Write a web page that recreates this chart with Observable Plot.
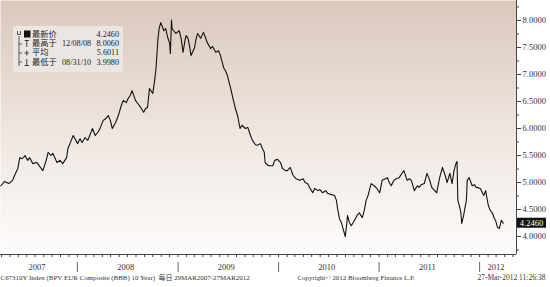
<!DOCTYPE html>
<html><head><meta charset="utf-8">
<script src="https://cdn.jsdelivr.net/npm/d3@7"></script>
<script src="https://cdn.jsdelivr.net/npm/@observablehq/plot@0.6"></script>
<style>
html,body{margin:0;padding:0;background:#fff;}
#wrap{position:relative;width:550px;height:287px;overflow:hidden;}
.legend{position:absolute;left:13px;top:26px;width:110px;height:46px;background:#ece6e2;font-family:"Liberation Serif","Noto Sans CJK SC",serif;font-size:8.2px;color:#222;}
.legend span{position:absolute;line-height:9px;white-space:nowrap;}
</style></head><body><div id="wrap"></div>
<script>
const dates = [
"2007-03-29","2007-04-12","2007-04-27","2007-05-11","2007-05-18","2007-05-30","2007-06-06","2007-06-15","2007-06-25","2007-07-05",
"2007-07-12","2007-07-23","2007-08-07","2007-08-17","2007-08-29","2007-09-10","2007-09-17","2007-09-27","2007-10-04","2007-10-19",
"2007-10-30","2007-11-09","2007-11-23","2007-11-28","2007-12-10","2007-12-17","2008-01-02","2008-01-11","2008-01-18","2008-01-29",
"2008-02-08","2008-02-25","2008-03-06","2008-03-17","2008-03-25","2008-04-04","2008-04-15","2008-04-22","2008-04-30","2008-05-07",
"2008-05-19","2008-05-29","2008-06-09","2008-06-16","2008-06-27","2008-07-04","2008-07-11","2008-07-18","2008-07-30","2008-08-11",
"2008-08-18","2008-08-29","2008-09-05","2008-09-12","2008-09-19","2008-10-01","2008-10-08","2008-10-13","2008-10-20","2008-10-24",
"2008-10-30","2008-11-06","2008-11-10","2008-11-17","2008-11-24","2008-12-01","2008-12-04","2008-12-08","2008-12-10","2008-12-16",
"2008-12-24","2009-01-05","2009-01-12","2009-01-19","2009-01-26","2009-01-30","2009-02-06","2009-02-10","2009-02-17","2009-03-02",
"2009-03-06","2009-03-13","2009-03-24","2009-04-03","2009-04-10","2009-04-17","2009-04-29","2009-05-06","2009-05-18","2009-05-28",
"2009-06-04","2009-06-15","2009-06-22","2009-06-29","2009-07-10","2009-07-21","2009-07-28","2009-08-05","2009-08-14","2009-08-21",
"2009-09-02","2009-09-11","2009-09-21","2009-09-28","2009-10-09","2009-10-16","2009-10-27","2009-11-03","2009-11-10","2009-11-13",
"2009-11-25","2009-12-02","2009-12-11","2009-12-18","2009-12-28","2010-01-08","2010-01-15","2010-01-26","2010-02-02","2010-02-12",
"2010-02-23","2010-03-05","2010-03-19","2010-03-31","2010-04-07","2010-04-16","2010-04-23","2010-05-05","2010-05-12","2010-05-24",
"2010-05-31","2010-06-10","2010-06-21","2010-06-28","2010-07-09","2010-07-23","2010-07-30","2010-08-03","2010-08-10","2010-08-17",
"2010-08-31","2010-09-06","2010-09-08","2010-09-15","2010-09-22","2010-10-04","2010-10-13","2010-10-21","2010-11-01","2010-11-08",
"2010-11-15","2010-11-22","2010-12-03","2010-12-14","2010-12-24","2011-01-03","2011-01-12","2011-01-24","2011-01-31","2011-02-07",
"2011-02-14","2011-02-24","2011-03-04","2011-03-15","2011-03-25","2011-04-01","2011-04-13","2011-04-21","2011-04-28","2011-05-09",
"2011-05-20","2011-05-26","2011-06-03","2011-06-14","2011-06-24","2011-07-04","2011-07-11","2011-07-22","2011-07-29","2011-08-09",
"2011-08-19","2011-08-29","2011-09-05","2011-09-15","2011-09-23","2011-09-30","2011-10-07","2011-10-11","2011-10-14","2011-10-21",
"2011-10-25","2011-10-28","2011-11-04","2011-11-07","2011-11-14","2011-11-17","2011-11-24","2011-12-05","2011-12-13","2011-12-20",
"2012-01-04","2012-01-11","2012-01-16","2012-01-23","2012-01-26","2012-02-02","2012-02-09","2012-02-16","2012-02-24","2012-02-28",
"2012-03-06","2012-03-13","2012-03-20","2012-03-27"
];
const values = [
4.94,5.02,4.98,5.04,5.13,5.26,5.46,5.44,5.50,5.41,
5.46,5.35,5.37,5.30,5.22,5.41,5.56,5.50,5.54,5.37,
5.41,5.35,5.46,5.63,5.78,5.87,5.72,5.81,5.74,5.83,
5.78,6.00,5.87,5.94,6.02,6.15,6.19,6.24,6.15,6.00,
6.11,6.24,6.43,6.52,6.48,6.56,6.61,6.70,6.52,6.44,
6.39,6.30,6.37,6.39,6.74,6.65,6.89,7.13,7.67,7.85,
7.96,7.87,7.81,7.85,7.69,7.58,7.39,8.006,7.85,7.81,
7.76,7.81,7.67,7.41,7.63,7.72,7.67,7.57,7.35,7.50,
7.63,7.76,7.67,7.78,7.69,7.59,7.48,7.52,7.41,7.44,
7.35,7.13,7.07,6.98,6.76,6.52,6.37,6.24,6.00,6.06,
6.00,6.02,5.87,5.78,5.70,5.69,5.72,5.63,5.56,5.37,
5.31,5.31,5.31,5.41,5.43,5.37,5.26,5.22,5.22,5.28,
5.13,5.07,5.04,5.07,5.00,4.98,4.91,4.81,4.89,4.85,
4.87,4.81,4.85,4.80,4.78,4.76,4.67,4.52,4.33,4.26,
3.998,4.26,4.39,4.26,4.20,4.30,4.39,4.44,4.35,4.48,
4.67,4.76,4.98,4.94,4.89,4.81,5.04,5.07,5.09,5.00,
4.94,5.04,5.07,5.09,5.17,5.22,5.04,5.07,5.04,4.85,
4.94,4.91,4.96,4.98,5.17,5.04,4.91,4.85,4.81,5.09,
5.28,5.13,5.00,5.17,4.98,5.22,5.35,5.39,4.67,4.54,
4.44,4.24,4.39,4.48,4.67,5.04,5.09,4.94,4.96,4.91,
4.89,4.81,4.76,4.85,4.76,4.57,4.48,4.44,4.33,4.30,
4.17,4.15,4.30,4.246
];
const yTicks = [4, 4.5, 5, 5.5, 6, 6.5, 7, 7.5, 8];
const yMinorTicks = [3.75, 4.25, 4.75, 5.25, 5.75, 6.25, 6.75, 7.25, 7.75, 8.25];
const yearLabels = ["2007", "2008", "2009", "2010", "2011", "2012"];
const legendLabels = ["最新价", "最高于", "平均", "最低于"];
const legendDates = ["", "12/08/08", "", "08/31/10"];
const legendValues = ["4.2460", "8.0060", "5.6011", "3.9980"];
const footerLeft = "C67310Y Index (BPV EUR Composite (BBB) 10 Year)  每日 29MAR2007-27MAR2012";
const footerMid = "Copyright© 2012 Bloomberg Finance L.P.";
const footerRight = "27-Mar-2012 11:26:38";
const lastLabel = "4.2460";

const data = dates.map((d, i) => ({date: new Date(d + "T00:00:00Z"), value: values[i]}));
const xDomain = [new Date("2007-03-28T00:00:00Z"), new Date("2012-05-14T00:00:00Z")];
const yDomain = [3.667, 8.37];
const serif = "'Liberation Serif', 'Noto Sans CJK SC', serif";

const yearData = yearLabels.map(y => {
  const a = new Date(`${y}-01-01T00:00:00Z`), b = new Date(`${+y + 1}-01-01T00:00:00Z`);
  const s = Math.max(a, xDomain[0]), e = Math.min(b, xDomain[1]);
  return {label: y, mid: new Date((s + e) / 2)};
});
const yearStarts = yearLabels.slice(1).map(y => new Date(`${y}-01-01T00:00:00Z`));

const plot = Plot.plot({
  width: 550, height: 287,
  marginLeft: 0, marginRight: 34, marginTop: 0, marginBottom: 33,
  style: {background: "#ffffff", fontFamily: serif, color: "#333"},
  x: {type: "utc", domain: xDomain},
  y: {domain: yDomain},
  marks: [
    Plot.frame({fill: "url(#bgGrad)", stroke: null}),
    Plot.line(data, {x: "date", y: "value", stroke: "#111", strokeWidth: 1.1}),
    Plot.ruleX([xDomain[1]], {stroke: "#444"}),
    Plot.ruleY([yDomain[0]], {stroke: "#444"}),
    Plot.axisY({anchor: "right", ticks: yTicks, tickSize: 4, tickPadding: 2, tickFormat: d => d.toFixed(4), fontSize: 8.5, label: null, stroke: "#444", fill: "#333"}),
    Plot.axisY({anchor: "right", ticks: yMinorTicks, tickSize: 2, tickFormat: () => "", label: null, stroke: "#444"}),
    Plot.axisX({ticks: d3.utcMonth, tickSize: 3, tickFormat: () => "", label: null, stroke: "#444"}),
    Plot.axisX({ticks: yearStarts, tickSize: 10, dy: 8, tickFormat: () => "", label: null, stroke: "#666"}),
    Plot.text(yearData, {x: "mid", text: "label", frameAnchor: "bottom", dy: 15, dx: -2, fontSize: 8.5, fill: "#333"}),
    Plot.text([footerLeft], {text: d => d, frameAnchor: "bottom-left", textAnchor: "start", dy: 25, fontSize: 6.95, fill: "#333"}),
    Plot.text([footerMid], {text: d => d, frameAnchor: "bottom", textAnchor: "start", dy: 25, dx: 39, fontSize: 6.9, fill: "#333"}),
    Plot.text([footerRight], {text: d => d, frameAnchor: "bottom-right", textAnchor: "end", dy: 25, dx: 29, fontSize: 7.5, fill: "#333"})
  ]
});

d3.select(plot).insert("defs", ":first-child").html(
  `<linearGradient id="bgGrad" x1="0" y1="0" x2="0" y2="1">
     <stop offset="0" stop-color="#dac8bc"/>
     <stop offset="0.5" stop-color="#eee5df"/>
     <stop offset="1" stop-color="#fdfcfb"/>
   </linearGradient>`);

// last value tag on the right axis, positioned with the plot's own y scale
const yPix = plot.scale("y").apply(values[values.length - 1]);
const svg = d3.select(plot);
svg.append("rect").attr("x", 517).attr("y", yPix - 5).attr("width", 29).attr("height", 10).attr("fill", "#111");
svg.append("text").attr("x", 531.5).attr("y", yPix).attr("dy", "0.35em").attr("text-anchor", "middle")
  .attr("fill", "#fff").attr("font-size", 8.5).attr("font-family", serif).text(lastLabel);

const wrap = document.getElementById("wrap");
wrap.appendChild(plot);

// legend box
const leg = document.createElement("div");
leg.className = "legend";
const rowsTop = [3.8, 13.1, 22.4, 31.7];
let html = `<svg width="110" height="46" style="position:absolute;left:0;top:0">
  <path d="M4.5,5 V8.5 H7.5 V5" fill="none" stroke="#333" stroke-width="0.8"/>
  <path d="M6,10 V40 M6,18 H9 M6,27 H9 M6,36 H9" fill="none" stroke="#333" stroke-width="0.8"/>
  <rect x="11" y="4.5" width="6.5" height="7" fill="#111"/>
  <path d="M11.5,14.5 H16 M13.75,14.5 V21" stroke="#333" stroke-width="0.9"/>
  <path d="M11.5,27 H16 M13.75,24.5 V29.5" stroke="#333" stroke-width="0.9"/>
  <path d="M11.5,39.5 H16 M13.75,33 V39.5" stroke="#333" stroke-width="0.9"/>
</svg>`;
legendLabels.forEach((l, i) => {
  html += `<span style="left:19px;top:${rowsTop[i]}px">${l}</span>`;
  if (legendDates[i]) html += `<span style="left:49px;top:${rowsTop[i]}px">${legendDates[i]}</span>`;
  html += `<span style="right:4px;top:${rowsTop[i]}px">${legendValues[i]}</span>`;
});
leg.innerHTML = html;
wrap.appendChild(leg);
</script>
</body></html>
